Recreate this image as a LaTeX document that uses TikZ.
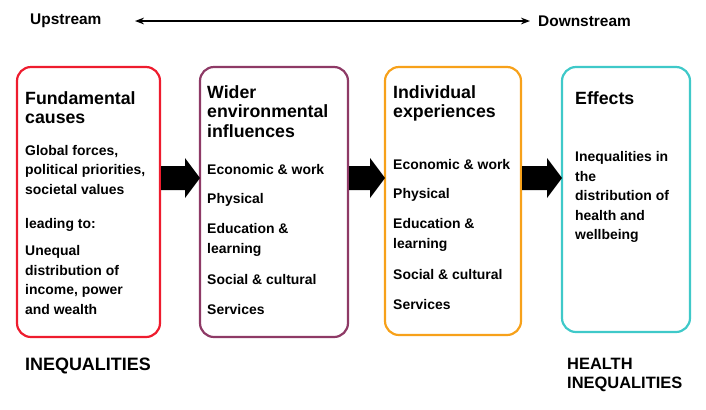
\documentclass[tikz,border=0pt]{standalone}
\usepackage{fontspec}
\setmainfont{Liberation Sans}
\usetikzlibrary{arrows.meta}
\definecolor{cred}{HTML}{EE1C2E}
\definecolor{cpurple}{HTML}{8E3A66}
\definecolor{corange}{HTML}{F7A11A}
\definecolor{cteal}{HTML}{3FC9C9}
\tikzset{
  box/.style={draw=#1,line width=2.2bp,rounded corners=14bp},
  head/.style={anchor=north west,inner sep=0pt,align=left,font=\bfseries\fontsize{17.8}{20}\selectfont},
  item/.style={anchor=west,inner sep=0pt,align=left,font=\bfseries\fontsize{14}{19.5}\selectfont}
}
% block arrow from x=#1 to x=#2 at y=178
\newcommand\blkarrow[2]{\fill (#1,166) -- ({#2-15},166) -- ({#2-15},158) -- (#2,178) -- ({#2-15},198) -- ({#2-15},190) -- (#1,190) -- cycle;}
\begin{document}
\begin{tikzpicture}[x=1bp,y=-1bp]
  \useasboundingbox (0,0) rectangle (706,409);
  % stream
  \node[item,font=\bfseries\fontsize{15.5}{19}\selectfont] (up) at (30,21) {Upstream};
  \node[item,font=\bfseries\fontsize{15.5}{19}\selectfont] (down) at (538,21) {Downstream};
  \draw[{Stealth[length=9bp]}-{Stealth[length=9bp]},line width=1.5bp] (135,21) -- (530,21);
  % boxes
  \draw[box=cred] (17,67) rectangle (160,337);
  \draw[box=cpurple] (200,67) rectangle (348,337);
  \draw[box=corange] (385,67) rectangle (521,335);
  \draw[box=cteal] (562,67) rectangle (690,332);
  % block arrows
  \blkarrow{161}{200}
  \blkarrow{349}{385}
  \blkarrow{522}{562}
  % fundamental causes
  \node[head] (fc) at (25,91) {Fundamental\\causes};
  \node[item] (gf) at (25,170) {Global forces,\\political priorities,\\societal values};
  \node[item] (lt) at (25,225) {leading to:};
  \node[item] (ud) at (25,280) {Unequal\\distribution of\\income, power\\and wealth};
  % wider environmental influences
  \node[head] (we) at (207,85) {Wider\\environmental\\influences};
  \node[item] (w1) at (207,170) {Economic \& work};
  \node[item] (w2) at (207,200) {Physical};
  \node[item] (w3) at (207,240) {Education \&\\learning};
  \node[item] (w4) at (207,280) {Social \& cultural};
  \node[item] (w5) at (207,310) {Services};
  % individual experiences
  \node[head] (ie) at (393,85) {Individual\\experiences};
  \node[item] (i1) at (393,165) {Economic \& work};
  \node[item] (i2) at (393,195) {Physical};
  \node[item] (i3) at (393,235) {Education \&\\learning};
  \node[item] (i4) at (393,275) {Social \& cultural};
  \node[item] (i5) at (393,305) {Services};
  % effects
  \node[head] (ef) at (575,91) {Effects};
  \node[item] (e1) at (575,197) {Inequalities in\\the\\distribution of\\health and\\wellbeing};
  % bottom
  \node[item,font=\bfseries\fontsize{18}{19}\selectfont] (inq) at (25,366) {INEQUALITIES};
  \node[item,font=\bfseries\fontsize{16.5}{19}\selectfont] (hinq) at (567,375) {HEALTH\\INEQUALITIES};
\end{tikzpicture}
\end{document}
